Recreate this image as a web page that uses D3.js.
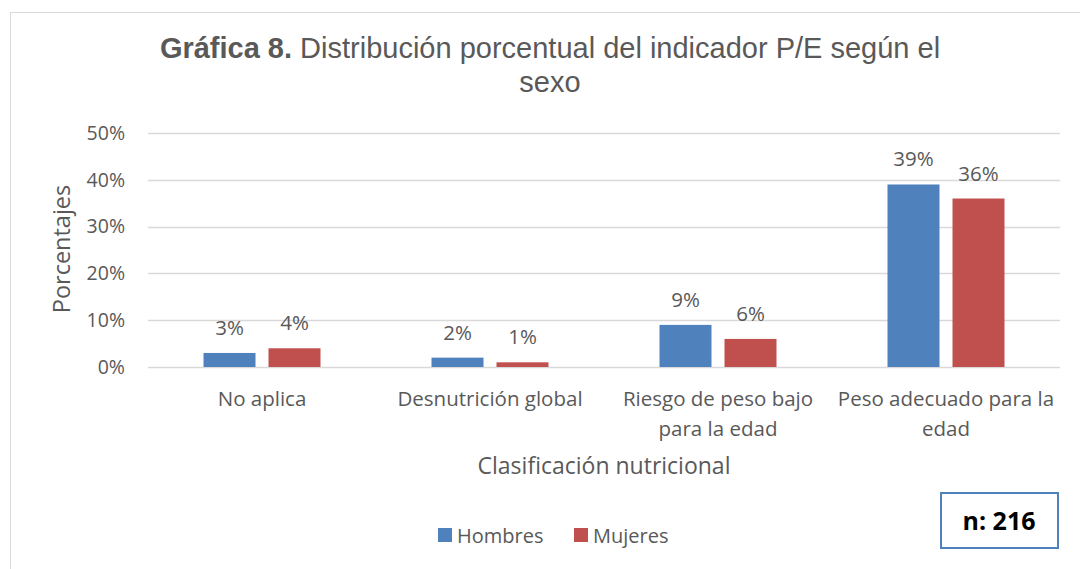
<!DOCTYPE html>
<html>
<head>
<meta charset="utf-8">
<script src="https://cdn.jsdelivr.net/npm/d3@7"></script>
<style>
body { margin: 0; background: #fff; }
text { font-family: "Open Sans", "Noto Sans", sans-serif; fill: #595959; }
</style>
</head>
<body>
<div class="container"></div>
<script>
var width = 1080;
var height = 569;

var categories = [["No aplica"], ["Desnutrición global"], ["Riesgo de peso bajo", "para la edad"], ["Peso adecuado para la", "edad"]];
var series_names = ["Hombres", "Mujeres"];
var hombres = [3, 2, 9, 39];
var mujeres = [4, 1, 6, 36];
var y_ticks = [0, 10, 20, 30, 40, 50];
var colors = ["#4F81BD", "#C0504D"];

var plot = {left: 148, right: 1060, top: 133, bottom: 367};

function init() {
    var svg = d3.select(".container").append("svg")
        .attr("width", width)
        .attr("height", height);

    // chart frame
    svg.append("rect")
        .attr("x", 10.5).attr("y", 12.5)
        .attr("width", 1080).attr("height", 600)
        .attr("fill", "none")
        .attr("stroke", "#d9d9d9");

    var x0 = d3.scaleBand()
        .domain(d3.range(categories.length))
        .range([plot.left, plot.right]);

    var x1 = d3.scaleBand()
        .domain(d3.range(series_names.length))
        .range([0, 117])
        .paddingInner(0.2);

    var y = d3.scaleLinear().domain([0, 50]).range([plot.bottom, plot.top]);

    // gridlines
    svg.append("g").selectAll("line")
        .data(y_ticks)
        .enter().append("line")
        .attr("x1", plot.left).attr("x2", plot.right)
        .attr("y1", function(d){return Math.round(y(d)) + 0.5;})
        .attr("y2", function(d){return Math.round(y(d)) + 0.5;})
        .attr("stroke", "#d9d9d9")
        .attr("stroke-width", 1.5);

    svg.append("g").selectAll("text")
        .data(y_ticks)
        .enter().append("text")
        .attr("x", 125)
        .attr("y", function(d){return y(d);})
        .attr("dy", "0.35em")
        .attr("text-anchor", "end")
        .style("font-size", "19.5px")
        .text(function(d){return d + "%";});

    var data = categories.map(function(c, i){return [hombres[i], mujeres[i]];});

    var groups = svg.append("g").selectAll("g")
        .data(data)
        .enter().append("g")
        .attr("transform", function(d, i){return "translate(" + (x0(i) + x0.bandwidth()/2 - 58.5) + ",0)";});

    groups.selectAll("rect")
        .data(function(d){return d;})
        .enter().append("rect")
        .attr("x", function(d, j){return x1(j);})
        .attr("width", x1.bandwidth())
        .attr("y", function(d){return y(d);})
        .attr("height", function(d){return y(0) - y(d);})
        .attr("fill", function(d, j){return colors[j];});

    groups.selectAll("text")
        .data(function(d){return d;})
        .enter().append("text")
        .attr("x", function(d, j){return x1(j) + x1.bandwidth()/2;})
        .attr("y", function(d){return y(d) - 18;})
        .attr("text-anchor", "middle")
        .style("font-size", "20.5px")
        .text(function(d){return d + "%";});

    // category labels
    var cats = svg.append("g").selectAll("text")
        .data(categories)
        .enter().append("text")
        .attr("text-anchor", "middle")
        .attr("x", function(d, i){return x0(i) + x0.bandwidth()/2;})
        .attr("y", 406)
        .style("font-size", "20.5px");
    cats.selectAll("tspan")
        .data(function(d){return d;})
        .enter().append("tspan")
        .attr("x", function(){return d3.select(this.parentNode).attr("x");})
        .attr("dy", function(d, k){return k === 0 ? 0 : 30;})
        .text(function(d){return d;});

    // axis titles
    svg.append("text")
        .attr("x", 604).attr("y", 474)
        .attr("text-anchor", "middle")
        .style("font-size", "23px")
        .text("Clasificación nutricional");

    svg.append("text")
        .attr("transform", "translate(70,249) rotate(-90)")
        .attr("text-anchor", "middle")
        .style("font-size", "23.5px")
        .text("Porcentajes");

    // title
    var title = svg.append("text")
        .attr("x", 550).attr("y", 58)
        .attr("text-anchor", "middle")
        .style("font-family", "'Liberation Sans', Arial, sans-serif")
        .style("font-size", "29px");
    title.append("tspan").style("font-weight", "bold").text("Gráfica 8.");
    title.append("tspan").text(" Distribución porcentual del indicador P/E según el");
    svg.append("text")
        .attr("x", 550).attr("y", 92)
        .attr("text-anchor", "middle")
        .style("font-family", "'Liberation Sans', Arial, sans-serif")
        .style("font-size", "29px")
        .text("sexo");

    // legend
    var legend_x = [438, 574];
    var legend = svg.append("g").selectAll("g")
        .data(series_names)
        .enter().append("g")
        .attr("transform", function(d, i){return "translate(" + legend_x[i] + ",528)";});
    legend.append("rect")
        .attr("width", 14).attr("height", 14)
        .attr("fill", function(d, i){return colors[i];});
    legend.append("text")
        .attr("x", 19).attr("y", 8)
        .attr("dy", "0.35em")
        .style("font-size", "20px")
        .text(function(d){return d;});

    // n box
    svg.append("rect")
        .attr("x", 941).attr("y", 493)
        .attr("width", 117).attr("height", 55)
        .attr("fill", "#fff")
        .attr("stroke", "#4F81BD")
        .attr("stroke-width", 2);
    svg.append("text")
        .attr("x", 999).attr("y", 521)
        .attr("dy", "0.35em")
        .attr("text-anchor", "middle")
        .style("font-size", "25px")
        .style("font-weight", "bold")
        .style("fill", "#000")
        .text("n: 216");
}

init();
</script>
</body>
</html>
